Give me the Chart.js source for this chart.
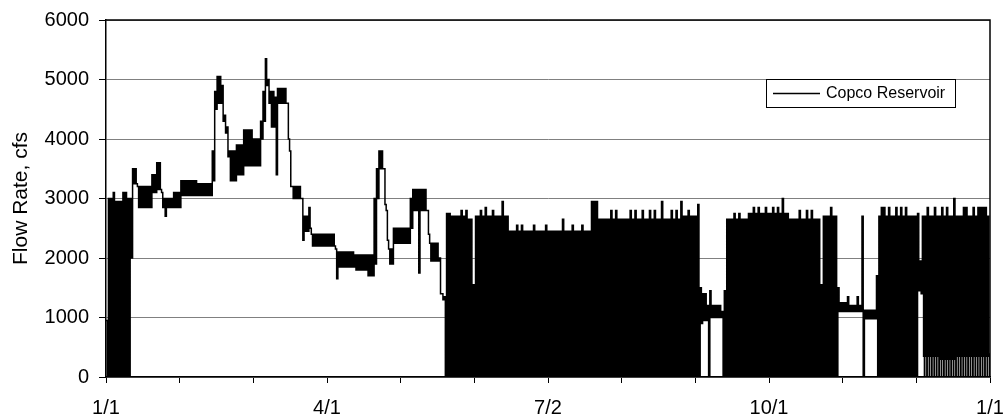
<!DOCTYPE html>
<html>
<head>
<meta charset="utf-8">
<script src="https://cdn.jsdelivr.net/npm/chart.js@4/dist/chart.umd.min.js"></script>
<style>
  body { margin: 0; background: #fff; }
</style>
</head>
<body>
<canvas id="myChart" width="1007" height="420"></canvas>
<script>
// flow, one row per stretch of days (day of year, daily high, daily low, cfs)
const segStart = [0, 1, 3, 4, 7, 9, 10, 11, 13, 19, 21, 23, 24, 25, 28, 31, 38, 44, 45, 46, 48, 49, 50, 51, 54, 57, 61, 64, 65, 66, 67, 68, 70, 71, 75, 76, 77, 81, 82, 84, 85, 95, 96, 103, 108, 111, 112, 113, 115, 116, 117, 119, 126, 127, 129, 130, 133, 134, 138, 139,
  140, 141, 143, 147, 150, 152, 153, 158, 162, 164, 165, 167, 175, 185, 189, 190, 196, 201, 204, 210, 230, 231, 238, 239, 245, 246, 247, 249, 250, 251, 255, 256, 257, 266, 280, 281, 283, 296, 297, 300, 301, 303, 304, 307, 308, 311, 312, 313, 314, 319, 320, 326, 330, 336, 337, 338, 345, 351, 352, 360];
const segHigh = [950, 3000, 3100, 2950, 3100, 3000, 3000, 3500, 3200, 3400, 3600, 3100, 3000, 3000, 3100, 3300, 3250, 3800, 4800, 5050, 4900, 4400, 4200, 3800, 3900, 4150, 4000, 4300, 4800, 5350, 5000, 4800, 4700, 4850, 4600, 3800, 3200, 3000, 2700, 2850, 2400, 2150, 2100, 2050, 2050, 3000, 3500, 3800, 3500, 2800, 2150, 2500, 3000, 3150, 3150, 3150, 2800, 2250, 2000, 1400,
  1350, 2750, 2700, 2700, 2650, 1550, 2700, 2700, 2700, 2950, 2700, 2450, 2450, 2450, 2650, 2450, 2450, 2950, 2650, 2650, 2950, 2650, 2950, 2700, 2900, 1500, 1400, 1200, 1450, 1200, 1100, 1450, 2650, 2750, 3000, 2750, 2650, 1550, 2700, 2850, 2700, 1500, 1250, 1350, 1200, 1350, 1200, 2700, 1120, 1700, 2700, 2700, 2700, 2750, 1950, 2700, 2700, 3000, 2700, 2700];
const segLow = [0, 0, 0, 0, 0, 0, 2000, 3250, 2850, 3100, 3150, 2850, 2700, 2850, 2850, 3050, 3050, 3300, 4500, 4600, 4300, 4100, 3700, 3300, 3400, 3550, 3550, 4000, 4300, 4900, 4600, 4200, 3400, 4600, 4000, 3200, 3000, 2300, 2450, 2500, 2200, 1650, 1850, 1800, 1700, 1900, 3000, 3500, 2900, 2300, 1900, 2250, 2500, 2800, 1750, 2800, 2400, 1950, 1400, 1300,
  0, 0, 0, 0, 0, 0, 0, 0, 0, 0, 0, 0, 0, 0, 0, 0, 0, 0, 0, 0, 0, 0, 0, 0, 0, 900, 950, 0, 1000, 1000, 0, 0, 0, 0, 0, 0, 0, 0, 0, 0, 0, 1100, 1100, 1100, 1100, 1100, 1100, 0, 980, 0, 0, 0, 0, 1450, 1400, 350, 300, 300, 350, 350];

// single days whose peak stands above the stretch around them
const spikeDay = [147, 149, 155, 157, 160, 170, 172, 177, 182, 193, 197, 209, 211, 217, 219, 222, 225, 227, 234, 236, 241, 260, 262, 268, 270, 273, 276, 278, 287, 290, 292, 321, 322, 324, 327, 329, 331, 340, 343, 346, 348, 355, 356, 359, 361, 362, 363, 364];
const spikeHigh = [2800, 2800, 2800, 2850, 2800, 2550, 2550, 2550, 2550, 2550, 2550, 2800, 2800, 2800, 2800, 2800, 2800, 2800, 2800, 2800, 2800, 2750, 2750, 2850, 2850, 2850, 2850, 2850, 2800, 2800, 2800, 2850, 2850, 2850, 2850, 2850, 2850, 2850, 2850, 2850, 2850, 2850, 2850, 2850, 2850, 2850, 2850, 2850];

// late December: flow sits near 350 but drops to zero once a day
const dipFrom = 338;
const dipFlow = 0;
const endFlow = 400;
const yearDays = 366;

// axis ticks: every 30.5 days, labelled every third one
const tickDays = [0, 30.5, 61, 91.5, 122, 152.5, 183, 213.5, 244, 274.5, 305, 335.5, 366];
const tickLabels = ['1/1', '', '', '4/1', '', '', '7/2', '', '', '10/1', '', '', '1/1'];
const seriesName = 'Copco Reservoir';

// each day: up to its high, then down to its low
const points = [];
let s = 0;
for (let d = 0; d < yearDays; d++) {
  while (s + 1 < segStart.length && segStart[s + 1] <= d) s++;
  const k = spikeDay.indexOf(d);
  points.push({ x: d, y: k >= 0 ? spikeHigh[k] : segHigh[s] });
  points.push({ x: d + 0.5, y: segLow[s] });
  if (d >= dipFrom) points.push({ x: d + 0.85, y: dipFlow });
}
points.push({ x: yearDays, y: endFlow });

const fontName = '"Liberation Sans", Arial, sans-serif';

// frame round the plot and the boxed legend inside it
const frameAndLegend = {
  id: 'frameAndLegend',
  afterDraw(chart) {
    const ctx = chart.ctx;
    const a = chart.chartArea;
    ctx.save();
    ctx.strokeStyle = '#000';
    ctx.lineWidth = 1.5;
    ctx.beginPath();
    ctx.moveTo(a.left, a.top);
    ctx.lineTo(a.right, a.top);
    ctx.lineTo(a.right, a.bottom);
    ctx.stroke();

    const top = Math.round(chart.scales.y.getPixelForValue(5000));
    const left = a.right - 224;
    const w = 189, h = 28;
    ctx.fillStyle = '#fff';
    ctx.fillRect(left, top, w, h);
    ctx.lineWidth = 1;
    ctx.strokeRect(left + 0.5, top + 0.5, w, h);
    ctx.lineWidth = 1.5;
    ctx.beginPath();
    ctx.moveTo(left + 7, top + h / 2 + 0.5);
    ctx.lineTo(left + 54, top + h / 2 + 0.5);
    ctx.stroke();
    ctx.fillStyle = '#000';
    ctx.font = '16px ' + fontName;
    ctx.textBaseline = 'middle';
    ctx.fillText(chart.data.datasets[0].label, left + 60, top + h / 2 + 1);
    ctx.restore();
  }
};

const ctx = document.getElementById('myChart');
new Chart(ctx, {
  type: 'line',
  data: {
    datasets: [{
      label: seriesName,
      data: points,
      stepped: true,
      borderColor: '#000',
      borderWidth: 1.5,
      pointRadius: 0,
      fill: false
    }]
  },
  options: {
    responsive: false,
    animation: false,
    events: [],
    layout: { padding: { left: 0, top: 20, right: 17, bottom: 0 } },
    plugins: {
      legend: { display: false },
      tooltip: { enabled: false }
    },
    scales: {
      x: {
        type: 'linear',
        min: 0,
        max: yearDays,
        afterBuildTicks: sc => { sc.ticks = tickDays.map(v => ({ value: v })); },
        afterFit: sc => { sc.height = 43; sc.paddingLeft = 0; sc.paddingRight = 0; },
        grid: { drawOnChartArea: false, tickLength: 6, tickColor: '#000', tickWidth: 1 },
        border: { color: '#000', width: 1.5 },
        ticks: {
          autoSkip: false,
          maxRotation: 0,
          padding: 13,
          color: '#000',
          font: { family: fontName, size: 20 },
          callback: (v, i) => tickLabels[i]
        }
      },
      y: {
        min: 0,
        max: 6000,
        afterFit: sc => { sc.width = 106; sc.paddingTop = 0; sc.paddingBottom = 0; },
        grid: { color: '#808080', lineWidth: 1, tickLength: 7, tickColor: '#000' },
        border: { color: '#000', width: 1.5 },
        ticks: {
          stepSize: 1000,
          padding: 10,
          color: '#000',
          font: { family: fontName, size: 20 },
          callback: v => String(v)
        },
        title: {
          display: true,
          text: 'Flow Rate, cfs',
          color: '#000',
          padding: { top: 9, bottom: 0 },
          font: { family: fontName, size: 21 }
        }
      }
    }
  },
  plugins: [frameAndLegend]
});
</script>
</body>
</html>
